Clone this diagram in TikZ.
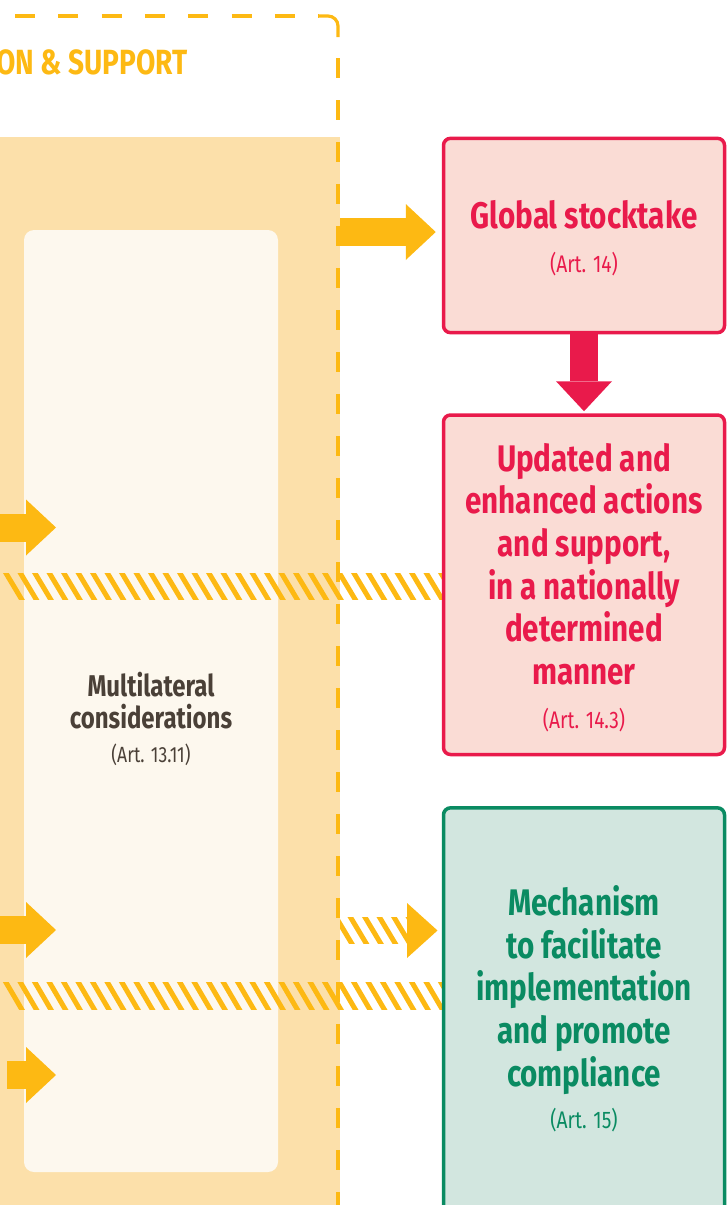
\documentclass[tikz,border=0pt]{standalone}
\usepackage{fontspec}
\usetikzlibrary{positioning, arrows.meta}
\newfontfamily\condfont[FakeStretch=0.8]{Fira Sans}
\definecolor{chartorange}{HTML}{FDB913}
\definecolor{bandorange}{HTML}{FCE0AA}
\definecolor{panelcream}{HTML}{FDF8EE}
\definecolor{chartred}{HTML}{E91A4B}
\definecolor{pinkfill}{HTML}{FADCD5}
\definecolor{chartgreen}{HTML}{0A8B62}
\definecolor{greenfill}{HTML}{D2E6DF}
\definecolor{textbrown}{HTML}{4A4037}

\begin{document}
\begin{tikzpicture}[x=1pt, y=-1pt,
    box/.style={draw, line width=3.5pt, rounded corners=7pt, inner sep=0pt, minimum width=281},
    bigtext/.style={font=\condfont\bfseries\fontsize{37}{42.6}\selectfont, align=center, inner sep=0pt},
    midtext/.style={font=\condfont\bfseries\fontsize{30}{32.3}\selectfont, align=center, inner sep=0pt, text=textbrown},
    artref/.style={font=\condfont\fontsize{24}{28}\selectfont, inner sep=0pt, anchor=base},
    fat/.style={line width=28pt, -{Triangle[length=30pt, width=56pt, line width=0pt]}},
    hatch/.style={chartorange, line width=5pt},
    outline/.style={chartorange, line width=3.2pt}]
      \useasboundingbox (0,0) rectangle (727,1205);

      % background band and inner panel
      \fill[bandorange] (0,137) rectangle (340,1215);
      \node[fill=panelcream, rounded corners=10pt, inner sep=0pt, minimum width=254, minimum height=942] (panel) at (151,701) {};

      % dashed frame
      \draw[outline, dash pattern=on 20pt off 23.3pt] (-28.3,16) -- (318.3,16);
      \draw[outline, rounded corners=10pt] (318.3,16) -- (338,16) -- (338,37);
      \draw[outline, dash pattern=on 20pt off 22pt] (338,58) -- (338,1215);
      \node[font=\condfont\bfseries\fontsize{35}{40}\selectfont, text=chartorange, anchor=base east, inner sep=0pt] (title) at (188,74) {ON \& SUPPORT};

      % hatched bands
      \begin{scope}
        \clip (0,573) rectangle (442,599);
        \foreach \x in {0,...,31}
        \draw[hatch] ({5.9+14.5*\x-6},563) -- ++(27.5,46);
      \end{scope}
      \begin{scope}
        \clip (0,982) rectangle (442,1009);
        \foreach \x in {0,...,31}
        \draw[hatch] ({5.9+14.5*\x-6},972) -- ++(27.5,47);
      \end{scope}

      % boxes
      \node[box, draw=chartred, fill=pinkfill, minimum height=194.3] (gst) at (584,235.5) {};
      \node[box, draw=chartred, fill=pinkfill, minimum height=339.5] (upd) at (584,584.75) {};
      \node[box, draw=chartgreen, fill=greenfill, minimum height=422] (mech) at (584,1018.85) {};

      % arrows
      \coordinate (a1) at (340,232);
      \draw[fat, chartorange, shorten >=6pt] (a1) -- (a1 -| gst.west);
      \draw[fat, chartred, shorten >=2pt] (gst.south) -- (upd.north);
      \coordinate (l2s) at (0,527.5);
      \coordinate (l2e) at (56,527.5);
      \draw[fat, chartorange] (l2s) -- (l2e);
      \coordinate (l3s) at (0,930);
      \coordinate (l3e) at (56,930);
      \draw[fat, chartorange] (l3s) -- (l3e);
      \coordinate (l4s) at (7,1075);
      \coordinate (l4e) at (56,1075);
      \draw[fat, chartorange] (l4s) -- (l4e);

      % hatched arrow to the mechanism
      \begin{scope}
        \clip (340,917) rectangle (407,943);
        \foreach \x in {0,...,5}
        \draw[hatch] ({335.9+14.5*\x-6},907) -- ++(27.5,46);
      \end{scope}
      \coordinate (h3) at (407,903);
      \fill[chartorange] (h3) -- ++(30.5,27.5) -- ++(-30.5,27.5) -- cycle;

      % texts
      \node[bigtext, text=chartred, anchor=base] (gsttitle) at (584,228) {Global stocktake};
      \node[artref, text=chartred] (gstart) at (584,272) {(Art. 14)};
      \node[bigtext, text=chartred] (updtitle) at (584,564) {Updated and\\enhanced actions\\and support,\\in a nationally\\determined\\manner};
      \node[artref, text=chartred] (updart) at (584,728) {(Art. 14.3)};
      \node[bigtext, text=chartgreen] (mechtitle) at (584,990) {Mechanism\\to facilitate\\implementation\\and promote\\compliance};
      \node[artref, text=chartgreen] (mechart) at (584,1128) {(Art. 15)};
      \node[midtext] (multi) at (151,700.5) {Multilateral\\considerations};
      \node[artref, font=\condfont\fontsize{22}{26}\selectfont, text=textbrown] (multiart) at (151,762) {(Art. 13.11)};
\end{tikzpicture}
\end{document}
